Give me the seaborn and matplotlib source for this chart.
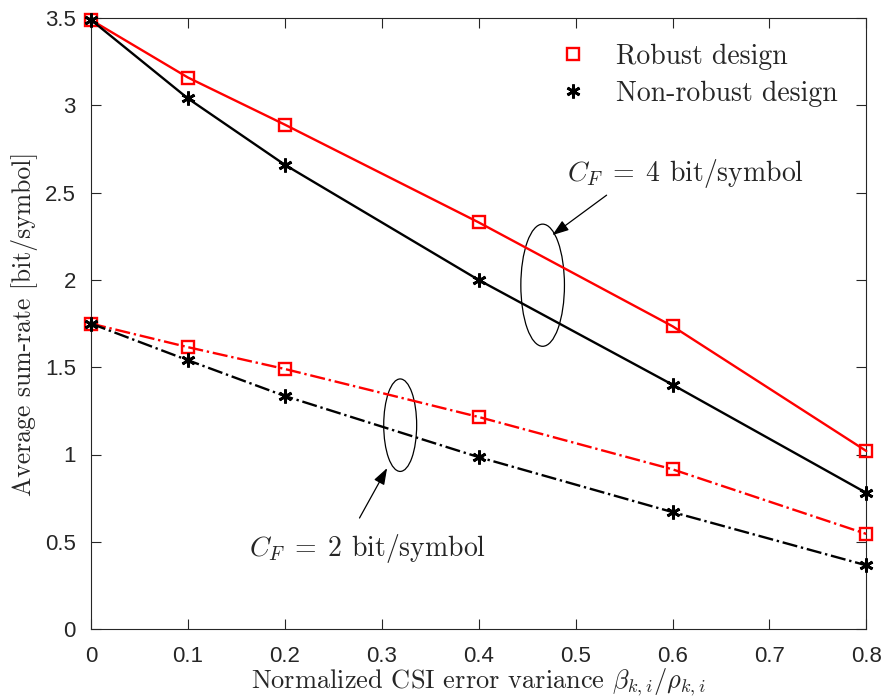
import numpy as np
import pandas as pd
import matplotlib
matplotlib.use('Agg')
import matplotlib.pyplot as plt
from matplotlib.patches import Ellipse
from matplotlib.lines import Line2D
import seaborn as sns

# CSI error variance values
csi_var = [0, 0.1, 0.2, 0.4, 0.6, 0.8]

# sum-rate
robust_cf4 = [3.49, 3.16, 2.89, 2.33, 1.735, 1.02]
nonrobust_cf4 = [3.49, 3.04, 2.66, 2.00, 1.40, 0.78]
robust_cf2 = [1.75, 1.615, 1.49, 1.215, 0.915, 0.545]
nonrobust_cf2 = [1.75, 1.54, 1.335, 0.985, 0.67, 0.365]

legend_labels = ['Robust design', 'Non-robust design']

sns.set_style('ticks')
plt.rcParams['mathtext.fontset'] = 'cm'
plt.rcParams['axes.unicode_minus'] = False

SERIF = 'cmr10'
RED = '#ff0000'
ASTER = (6, 2, 0)

fig = plt.figure(figsize=(8.84, 7.0), dpi=100)
ax = fig.add_axes([0.103, 0.1014, 0.877, 0.8726])

series = [
    (robust_cf4, RED, 's', '-'),
    (nonrobust_cf4, 'black', ASTER, '-'),
    (robust_cf2, RED, 's', '-.'),
    (nonrobust_cf2, 'black', ASTER, '-.'),
]
for vals, col, mk, ls in series:
    df = pd.DataFrame({'x': csi_var, 'y': vals})
    sns.lineplot(data=df, x='x', y='y', ax=ax, color=col, linestyle=ls, lw=1.7,
                 marker=mk, markersize=8 if mk == 's' else 10,
                 markerfacecolor='none' if mk == 's' else 'black',
                 markeredgecolor=col, markeredgewidth=1.7 if mk == 's' else 2.0,
                 clip_on=False, zorder=3)

ax.set_xlim(0, 0.8)
ax.set_ylim(0, 3.5)
ax.set_xticks([0, 0.1, 0.2, 0.3, 0.4, 0.5, 0.6, 0.7, 0.8])
ax.set_xticklabels(['0', '0.1', '0.2', '0.3', '0.4', '0.5', '0.6', '0.7', '0.8'])
ax.set_yticks([0, 0.5, 1, 1.5, 2, 2.5, 3, 3.5])
ax.set_yticklabels(['0', '0.5', '1', '1.5', '2', '2.5', '3', '3.5'])
for s in ax.spines.values():
    s.set_visible(True)
    s.set_color('#262626')
    s.set_linewidth(0.8)
ax.tick_params(direction='in', top=True, right=True, length=7, width=0.8,
               colors='#262626', labelsize=16)
ax.tick_params(axis='x', pad=12)
ax.tick_params(axis='y', pad=11)
for lab in ax.get_xticklabels() + ax.get_yticklabels():
    lab.set_fontfamily('Liberation Sans')

ax.set_xlabel(r'Normalized CSI error variance $\beta_{k,i}/\rho_{k,i}$',
              fontfamily=SERIF, fontsize=19, labelpad=0)
ax.set_ylabel('Average sum-rate [bit/symbol]', fontfamily=SERIF, fontsize=18.5,
              labelpad=5)

# ellipses and annotations
ax.add_patch(Ellipse((0.466, 1.97), 0.045, 0.70, fill=False, ec='black', lw=0.9))
ax.add_patch(Ellipse((0.319, 1.168), 0.034, 0.53, fill=False, ec='black', lw=0.9))
ax.annotate('', xy=(0.476, 2.257), xytext=(0.532, 2.486),
            arrowprops=dict(arrowstyle='-|>,head_length=1.0,head_width=0.35',
                            color='black', lw=0.9, shrinkA=0, shrinkB=0))
ax.annotate('', xy=(0.3055, 0.922), xytext=(0.277, 0.636),
            arrowprops=dict(arrowstyle='-|>,head_length=1.0,head_width=0.35',
                            color='black', lw=0.9, shrinkA=0, shrinkB=0))
ax.text(0.613, 2.61, r'$C_F \;=\; 4$ bit/symbol', fontfamily=SERIF, fontsize=20,
        ha='center', va='center')
ax.text(0.285, 0.464, r'$C_F \;=\; 2$ bit/symbol', fontfamily=SERIF, fontsize=20,
        ha='center', va='center')

handles = [
    Line2D([], [], ls='none', marker='s', ms=8, mfc='none', mec=RED, mew=1.7),
    Line2D([], [], ls='none', marker=ASTER, ms=10, mfc='black', mec='black', mew=2.0),
]
ax.legend(handles, legend_labels, loc='upper right', frameon=False,
          prop={'family': SERIF, 'size': 20}, handlelength=1.0, handletextpad=1.05,
          bbox_to_anchor=(0.995, 1.0), labelspacing=0.4)

fig.savefig('out.png', dpi=100)
